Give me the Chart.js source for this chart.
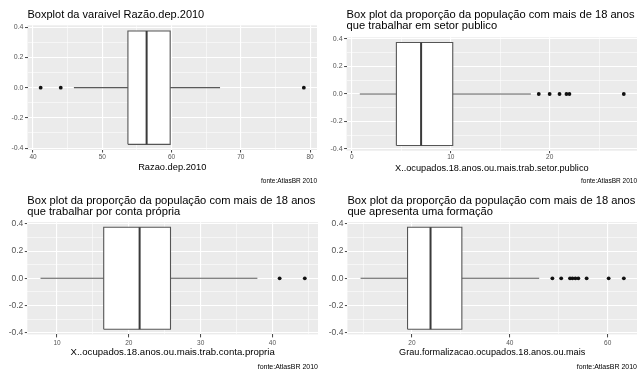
<!DOCTYPE html>
<html>
<head>
<meta charset="utf-8">
<script src="https://cdn.jsdelivr.net/npm/chart.js@4/dist/chart.umd.min.js"></script>
<style>
  html, body { margin: 0; padding: 0; background: #fff; }
  body { position: relative; width: 639px; height: 371px; overflow: hidden; }
  canvas { position: absolute; }
</style>
</head>
<body>
<script>
// ---- Data: one boxplot per panel (Razão.dep, setor público, conta própria, formalização) ----
const panelTitles = [
  ['Boxplot da varaivel Razão.dep.2010'],
  ['Box plot da proporção da população com mais de 18 anos', 'que trabalhar em setor publico'],
  ['Box plot da proporção da população com mais de 18 anos', 'que trabalhar por conta própria'],
  ['Box plot da proporção da população com mais de 18 anos', 'que apresenta uma formação']
];
const axisTitles = [
  'Razao.dep.2010',
  'X..ocupados.18.anos.ou.mais.trab.setor.publico',
  'X..ocupados.18.anos.ou.mais.trab.conta.propria',
  'Grau.formalizacao.ocupados.18.anos.ou.mais'
];
const sourceNote = 'fonte:AtlasBR 2010';

const whiskerLow  = [45.9, 0.8, 7.7, 9.5];
const quartile1   = [53.7, 4.5, 16.5, 19.1];
const medians     = [56.4, 7.0, 21.5, 23.8];
const quartile3   = [59.8, 10.2, 25.8, 30.2];
const whiskerHigh = [67.0, 18.1, 37.9, 46.0];

const outliersRazao        = [41.1, 44.0, 79.1];
const outliersSetorPublico = [18.9, 20.0, 21.0, 21.7, 22.0, 27.5];
const outliersContaPropria = [41.0, 44.5];
const outliersFormalizacao = [48.7, 50.5, 52.3, 52.8, 53.4, 54.0, 55.7, 60.2, 63.3];
const outlierSets = [outliersRazao, outliersSetorPublico, outliersContaPropria, outliersFormalizacao];

const xMajorStep = [10, 10, 10, 20];   // labelled x ticks; minor grid at half step
const yMajorStep = 0.2;                 // labelled y ticks: -0.4 ... 0.4
const boxHalfWidth = 0.375;             // ggplot box width 0.75 centred on 0

// ---- Layout of each panel on the page ----
const frames = [
  { left: 0,   top: 0,   width: 321, height: 185, padRight: 0.7, yAxisW: 27.5,
    titleFont: 11, titleLH: 1.2,   titlePad: { top: 8.3, bottom: 3.8 },
    noteFont: 6.5, axisH: 27.2, axisTitleFont: 9.3, axisTitlePadB: 4.0,
    xTickFont: 6.5, yTickFont: 7, xTickLen: 2.5, xTickPad: 0.5 },
  { left: 319, top: 0,   width: 322, height: 185, padRight: 0, yAxisW: 27.6,
    titleFont: 11.15, titleLH: 0.951, titlePad: { top: 9.6, bottom: 6.5 },
    noteFont: 6.5, axisH: 26.5, axisTitleFont: 9.2, axisTitlePadB: 3.5,
    xTickFont: 6.5, yTickFont: 7, xTickLen: 2.5, xTickPad: 0.5 },
  { left: 0,   top: 185, width: 322, height: 186, padRight: 0.9, yAxisW: 27.3,
    titleFont: 11.15, titleLH: 1.049, titlePad: { top: 9.65, bottom: 4.15 },
    noteFont: 7, axisH: 28.2, axisTitleFont: 9.6, axisTitlePadB: 4.2,
    xTickFont: 6.5, yTickFont: 8.5, xTickLen: 3, xTickPad: 1.5 },
  { left: 319, top: 185, width: 322, height: 186, padRight: 0.6, yAxisW: 28.4,
    titleFont: 11.15, titleLH: 1.049, titlePad: { top: 9.65, bottom: 4.15 },
    noteFont: 7, axisH: 28.2, axisTitleFont: 9.15, axisTitlePadB: 4.4,
    xTickFont: 6.5, yTickFont: 8.5, xTickLen: 3, xTickPad: 1.5 }
];

const FONT = "'Liberation Sans', Arial, Helvetica, sans-serif";

const panelBackground = {
  id: 'panelBackground',
  beforeDraw(chart) {
    const { ctx, chartArea: a } = chart;
    ctx.save();
    ctx.fillStyle = '#EBEBEB';
    ctx.fillRect(a.left, a.top, a.right - a.left, a.bottom - a.top);
    ctx.restore();
  }
};

function isMultiple(v, step) {
  const r = v / step;
  return Math.abs(r - Math.round(r)) < 1e-6;
}

function fmtY(v) {
  const x = Math.abs(v) < 1e-9 ? 0 : v;
  return x.toFixed(1);
}

// ticks at every multiple of `step` inside the scale range (major + minor grid)
function stepTicks(step) {
  return scale => {
    const out = [];
    const first = Math.ceil(scale.min / step - 1e-9);
    const last = Math.floor(scale.max / step + 1e-9);
    for (let k = first; k <= last; k++) out.push({ value: Math.round(k * step * 1e6) / 1e6 });
    scale.ticks = out;
  };
}

function tickValue(c) {
  return c && c.tick ? c.tick.value : NaN;
}

function buildPanel(i) {
  const f = frames[i];
  const canvas = document.createElement('canvas');
  canvas.width = f.width;
  canvas.height = f.height;
  canvas.style.left = f.left + 'px';
  canvas.style.top = f.top + 'px';
  canvas.style.width = f.width + 'px';
  canvas.style.height = f.height + 'px';
  document.body.appendChild(canvas);

  const lo = whiskerLow[i], q1 = quartile1[i], med = medians[i], q3 = quartile3[i], hi = whiskerHigh[i];
  const outs = outlierSets[i];
  const allVals = [lo, q1, med, q3, hi].concat(outs);
  const dMin = Math.min(...allVals), dMax = Math.max(...allVals);
  const span = dMax - dMin;
  const xMin = dMin - 0.05 * span, xMax = dMax + 0.05 * span;
  const yLim = boxHalfWidth * 1.1;

  const major = xMajorStep[i];
  const h = boxHalfWidth;

  const datasets = [
    { // white box body
      type: 'line', order: 5,
      data: [{ x: q1, y: h }, { x: q3, y: h }],
      borderWidth: 0, pointRadius: 0, backgroundColor: '#ffffff',
      fill: { value: -h }
    },
    { // lower whisker
      type: 'line', order: 4,
      data: [{ x: lo, y: 0 }, { x: q1, y: 0 }],
      borderColor: '#5a5a5a', borderWidth: 1.1, pointRadius: 0, fill: false
    },
    { // upper whisker
      type: 'line', order: 4,
      data: [{ x: q3, y: 0 }, { x: hi, y: 0 }],
      borderColor: '#5a5a5a', borderWidth: 1.1, pointRadius: 0, fill: false
    },
    { // box outline
      type: 'line', order: 3,
      data: [{ x: q1, y: -h }, { x: q3, y: -h }, { x: q3, y: h }, { x: q1, y: h }, { x: q1, y: -h }],
      borderColor: '#555555', borderWidth: 1.1, pointRadius: 0, fill: false
    },
    { // median
      type: 'line', order: 2,
      data: [{ x: med, y: -h }, { x: med, y: h }],
      borderColor: '#3a3a3a', borderWidth: 2, pointRadius: 0, fill: false
    },
    { // outliers
      type: 'scatter', order: 1,
      data: outs.map(v => ({ x: v, y: 0 })),
      pointRadius: 1.9, pointBackgroundColor: '#111111', pointBorderWidth: 0, showLine: false
    }
  ];

  new Chart(canvas, {
    type: 'scatter',
    data: { datasets },
    plugins: [panelBackground],
    options: {
      responsive: false,
      animation: false,
      devicePixelRatio: 1,
      events: [],
      elements: { line: { tension: 0 } },
      layout: { padding: { left: 0, top: 0, right: f.padRight, bottom: 0 } },
      plugins: {
        legend: { display: false },
        tooltip: { enabled: false },
        title: {
          display: true, text: panelTitles[i], align: 'start', fullSize: false,
          color: '#000', padding: f.titlePad,
          font: { family: FONT, size: f.titleFont, weight: 'normal', lineHeight: f.titleLH }
        },
        subtitle: {
          display: true, text: sourceNote, position: 'bottom', align: 'end', fullSize: false,
          color: '#000', padding: 0,
          font: { family: FONT, size: f.noteFont, weight: 'normal', lineHeight: 1.2 }
        }
      },
      scales: {
        x: {
          type: 'linear', position: 'bottom', bounds: 'data',
          min: xMin, max: xMax,
          afterBuildTicks: stepTicks(major / 2),
          afterFit: s => { s.height = f.axisH; },
          border: { display: false },
          grid: {
            drawTicks: true, tickLength: f.xTickLen, tickWidth: 1,
            color: '#ffffff',
            lineWidth: c => isMultiple(tickValue(c), major) ? 1.1 : 0.55,
            tickColor: c => isMultiple(tickValue(c), major) ? '#444444' : 'rgba(0,0,0,0)'
          },
          ticks: {
            autoSkip: false, maxRotation: 0, minRotation: 0,
            padding: f.xTickPad, color: '#555555',
            font: { family: FONT, size: f.xTickFont },
            callback: v => isMultiple(v, major) ? String(Math.round(v)) : ''
          },
          title: {
            display: true, text: axisTitles[i], color: '#000',
            padding: { top: 0, bottom: f.axisTitlePadB },
            font: { family: FONT, size: f.axisTitleFont, lineHeight: 1.2 }
          }
        },
        y: {
          type: 'linear', position: 'left', bounds: 'data',
          min: -yLim, max: yLim,
          afterBuildTicks: stepTicks(yMajorStep / 2),
          afterFit: s => { s.width = f.yAxisW; },
          border: { display: false },
          grid: {
            drawTicks: true, tickLength: 2.5, tickWidth: 1,
            color: '#ffffff',
            lineWidth: c => isMultiple(tickValue(c), yMajorStep) ? 1.1 : 0.55,
            tickColor: c => isMultiple(tickValue(c), yMajorStep) ? '#444444' : 'rgba(0,0,0,0)'
          },
          ticks: {
            autoSkip: false,
            padding: 1.5, color: '#555555',
            font: { family: FONT, size: f.yTickFont },
            callback: v => isMultiple(v, yMajorStep) ? fmtY(v) : ''
          }
        }
      }
    }
  });
}

for (let i = 0; i < 4; i++) buildPanel(i);
</script>
</body>
</html>
